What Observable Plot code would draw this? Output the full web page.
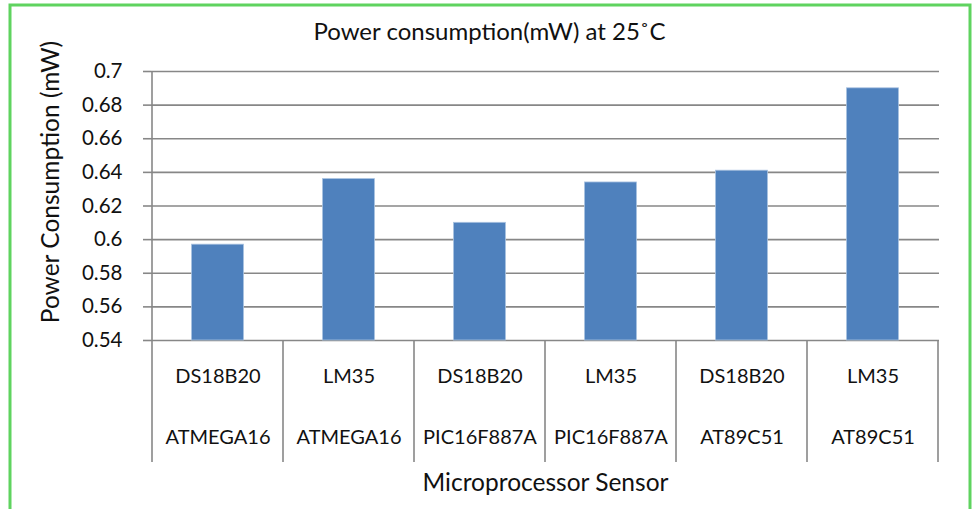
<!DOCTYPE html>
<html><head><meta charset="utf-8">
<script src="https://cdn.jsdelivr.net/npm/d3@7"></script>
<script src="https://cdn.jsdelivr.net/npm/@observablehq/plot@0.6"></script>
<style>
html,body{margin:0;padding:0;background:#fff;}
#chart{position:relative;width:976px;height:509px;overflow:hidden;}
</style></head><body><div id="chart"></div>
<script>
const sensors = ["DS18B20", "LM35", "DS18B20", "LM35", "DS18B20", "LM35"];
const processors = ["ATMEGA16", "ATMEGA16", "PIC16F887A", "PIC16F887A", "AT89C51", "AT89C51"];
const power = [0.597, 0.636, 0.610, 0.634, 0.641, 0.690];
const yDomain = [0.54, 0.70];
const yTicks = [0.54, 0.56, 0.58, 0.60, 0.62, 0.64, 0.66, 0.68, 0.70];
const title = "Power consumption(mW) at 25˚C";
const yLabel = "Power Consumption (mW)";
const xLabel = "Microprocessor Sensor";

const data = sensors.map((s, i) => ({key: String(i), sensor: s, processor: processors[i], value: power[i]}));

const font = "Lato, 'Open Sans', sans-serif";
const gray = "#878787";
const ink = "#111";

const plot = Plot.plot({
  width: 976, height: 509,
  marginLeft: 151, marginRight: 37, marginTop: 71, marginBottom: 169,
  style: {fontFamily: font, fontSize: "20px", color: ink, background: "#fff"},
  x: {type: "band", domain: data.map(d => d.key), padding: 0, axis: null},
  y: {domain: yDomain, axis: null},
  marks: [
    Plot.gridY(yTicks, {stroke: gray, strokeOpacity: 1, strokeWidth: 1.6}),
    Plot.axisY(yTicks, {tickSize: 8, tickPadding: 21, stroke: gray, strokeWidth: 1.6,
      tickFormat: d => String(+d.toFixed(2)), fontSize: 20.5, fill: ink, label: null}),
    Plot.barY(data, {x: "key", y1: () => yDomain[0], y2: "value", fill: "#4f81bd",
      stroke: "#a9c2e0", strokeWidth: 0.8, insetLeft: 39.5, insetRight: 39.5}),
    Plot.text(data, {x: "key", text: "sensor", frameAnchor: "bottom", lineAnchor: "middle", dy: 36, fontSize: 20, fill: ink}),
    Plot.text(data, {x: "key", text: "processor", frameAnchor: "bottom", lineAnchor: "middle", dy: 97, fontSize: 20, fill: ink}),
    Plot.text([title], {text: d => d, frameAnchor: "top", textAnchor: "middle", lineAnchor: "middle", dx: -56, dy: -39, fontSize: 24, fill: ink}),
    Plot.text([yLabel], {text: d => d, frameAnchor: "left", textAnchor: "middle", lineAnchor: "middle", rotate: -90, dx: -100, dy: -24, fontSize: 24.5, fill: ink}),
    Plot.text([xLabel], {text: d => d, frameAnchor: "bottom", textAnchor: "middle", lineAnchor: "middle", dy: 143, fontSize: 24.5, fill: ink})
  ]
});

// category dividers and extended axis line, positioned from Plot's scales
const xs = plot.scale("x");
const ys = plot.scale("y");
const svg = d3.select(plot.tagName === "svg" ? plot : plot.querySelector("svg"));
const yBottom = ys.apply(yDomain[0]);
const yTop = ys.apply(yDomain[1]);
const boxDepth = 122;
const edges = xs.domain.map(k => xs.apply(k)).concat([xs.apply(xs.domain[xs.domain.length - 1]) + xs.bandwidth]);
const g = svg.append("g").attr("stroke", gray).attr("stroke-width", 1.6);
edges.forEach((x, i) => {
  g.append("line").attr("x1", x).attr("x2", x)
    .attr("y1", i === 0 ? yTop : yBottom).attr("y2", yBottom + boxDepth);
});
// green outer border
svg.append("rect").attr("x", 10).attr("y", 5).attr("width", 960).attr("height", 600)
  .attr("fill", "none").attr("stroke", "#5fd35f").attr("stroke-width", 3);

document.getElementById("chart").appendChild(plot);
</script>
</body></html>
